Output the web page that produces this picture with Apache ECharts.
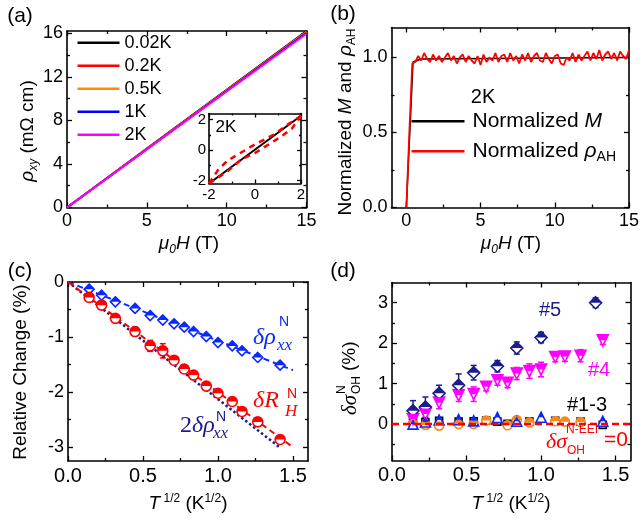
<!DOCTYPE html>
<html>
<head>
<meta charset="utf-8">
<script src="https://cdn.jsdelivr.net/npm/echarts@6/dist/echarts.min.js"></script>
<style>
html, body { margin: 0; background: #fff; }
#chart { width: 642px; height: 520px; }
</style>
</head>
<body>
<div id="chart"></div>
<script>
const SANS = '"Liberation Sans", Arial, sans-serif';
const SERIF = '"Liberation Serif", "Times New Roman", serif';

// (a) rho_xy vs field for each temperature
const fieldA = [0, 5, 10, 15];
const tempLabels = ['0.02K', '0.2K', '0.5K', '1K', '2K'];
const tempColors = ['#000000', '#ff0000', '#ff8c00', '#0000ff', '#ff00ff'];
const rho002 = [0, 5.40, 10.80, 16.20];
const rho02 = [0, 5.38, 10.76, 16.15];
const rho05 = [0, 5.37, 10.73, 16.10];
const rho1 = [0, 5.35, 10.69, 16.03];
const rho2 = [0, 5.33, 10.65, 15.95];

// (a) inset, 2K
const insetField = [-2, 2];
const insetRho = [-2.2, 2.25];
const loopUpField = [-2, -1.6, -1.2, 0, 0.8, 1.5, 2];
const loopUp = [-2.2, -1.3, -0.7, 0.37, 1.0, 1.75, 2.25];
const loopDownField = [-2, -1.2, -0.6, 0, 1.2, 1.6, 2];
const loopDown = [-2.2, -1.4, -0.62, -0.2, 0.95, 1.4, 2.25];

// (b) normalized M and rho_AH at 2K
const magField = [0, 0.45, 1, 15];
const magNorm = [0, 0.97, 0.99, 1.0];
const ahRiseField = [0, 0.2, 0.4];
const ahRise = [0, 0.5, 0.96];
const ahStart = 0.6, ahStep = 0.2;
const ahNoise = [
  0.97, 1.01, 0.98, 1.03, 0.99, 0.97, 1.02, 0.98, 1.01, 0.97,
  1.00, 1.03, 0.98, 1.01, 0.96, 1.00, 1.02, 0.97, 1.01, 0.98,
  0.96, 1.01, 0.95, 1.02, 0.97, 1.00, 0.98, 1.03, 0.97, 1.01,
  1.02, 0.97, 1.03, 0.98, 1.01, 0.96, 1.02, 0.98, 1.03, 0.97,
  1.01, 1.03, 0.98, 0.97, 1.03, 0.99, 0.96, 1.01, 1.02, 0.96,
  0.95, 1.00, 0.98, 1.03, 0.97, 1.02, 0.98, 1.01, 1.04, 0.98,
  1.03, 0.99, 1.05, 0.98, 1.02, 1.04, 0.99, 1.03, 0.98, 1.04,
  1.01, 0.99, 1.05
];

// (c) relative change vs T^1/2
const tSqrt = [0.141, 0.224, 0.316, 0.447, 0.548, 0.632, 0.707, 0.775, 0.837, 0.922, 1.0, 1.095, 1.16, 1.265, 1.414];
const dRhoXX = [-0.13, -0.24, -0.36, -0.48, -0.61, -0.69, -0.76, -0.82, -0.9, -0.99, -1.1, -1.16, -1.25, -1.37, -1.51];
const dRH = [-0.28, -0.42, -0.66, -0.9, -1.16, -1.25, -1.42, -1.58, -1.69, -1.89, -2.02, -2.17, -2.35, -2.54, -2.86];
const dRHErr = [0.04, 0.05, 0.05, 0.08, 0.1, 0.13, 0.05, 0.04, 0.04, 0.07, 0.05, 0.04, 0.04, 0.04, 0.04];
const fitX = [0, 1.5];
const fitRhoXX = [0, -1.6];
const fitRH = [0, -3.0];
const fit2RhoX = [0, 1.41];
const fit2Rho = [0, -3.0];

// (d) delta sigma_OH vs T^1/2
const s5T = [0.141, 0.224, 0.316, 0.447, 0.548, 0.707, 0.837, 1.0, 1.366];
const s5 = [0.33, 0.42, 0.76, 0.96, 1.27, 1.43, 1.88, 2.14, 3.0];
const s5Err = [0.25, 0.25, 0.2, 0.28, 0.18, 0.14, 0.15, 0.13, 0.12];
const s4 = [0.12, 0.25, 0.53, 0.71, 0.74, 0.92, 1.08, 1.02, 1.25, 1.31, 1.35, 1.66, 1.67, 1.69, 2.07];
const s4Err = [0.2, 0.22, 0.15, 0.15, 0.18, 0.1, 0.12, 0.12, 0.15, 0.18, 0.18, 0.12, 0.12, 0.15, 0.1];
const s1T = [0.141, 0.224, 0.316, 0.447, 0.548, 0.632, 0.707, 0.775, 0.922, 1.095, 1.265, 1.414];
const s1 = [0.08, 0.05, 0.08, 0.06, 0.07, 0.09, 0.06, 0.01, 0.06, 0.08, 0.06, -0.02];
const s2T = [0.141, 0.224, 0.316, 0.447, 0.548, 0.707, 0.837, 1.0, 1.414];
const s2 = [0.0, 0.05, 0.1, 0.11, 0.08, 0.16, 0.07, 0.17, 0.07];
const s3T = [0.141, 0.224, 0.316, 0.447, 0.548, 0.632, 0.775, 0.837, 0.922, 1.095, 1.16, 1.265];
const s3 = [0.0, -0.02, -0.04, 0.0, 0.0, 0.09, -0.03, 0.1, 0.04, 0.07, 0.06, 0.05];
const zeroX = [0, 1.6];
const zeroY = [0, 0];

const BLUE = '#0a28ff', NAVY = '#1c1c8c', RED = '#ff0000', MAG = '#ff00ff', ORANGE = '#f5891f';

function rich(fs) {
  const s = Math.round(fs * 0.65);
  return {
    n: { fontSize: fs, fontFamily: SANS, lineHeight: fs + 4 },
    i: { fontSize: fs, fontFamily: SANS, fontStyle: 'italic', lineHeight: fs + 4 },
    sub: { fontSize: s, fontFamily: SANS, verticalAlign: 'bottom', lineHeight: s },
    isub: { fontSize: s, fontFamily: SANS, fontStyle: 'italic', verticalAlign: 'bottom', lineHeight: s },
    sup: { fontSize: s, fontFamily: SANS, verticalAlign: 'top', lineHeight: s }
  };
}
const R19 = rich(19);
const R21 = rich(21);

// axes: every frame gets mirrored ticks on all four sides
const xAxes = [], yAxes = [];
function axisPart(gi, pos, s, ticks, len, withLabel, withLine) {
  return {
    type: 'value', gridIndex: gi, position: pos, min: s.min, max: s.max,
    axisLine: { show: withLine, onZero: false, lineStyle: { color: '#000', width: 1.6 } },
    axisTick: { show: ticks.length > 0, inside: true, length: len, customValues: ticks, lineStyle: { color: '#000', width: 1.3 } },
    axisLabel: { show: withLabel, customValues: s.major, margin: s.margin, fontSize: s.fs, color: '#000', fontFamily: SANS,
      formatter: s.fmt || (v => String(v)) },
    splitLine: { show: false }
  };
}
function addFrame(gi, xs, ys, L, l) {
  const xi = xAxes.length, yi = yAxes.length;
  xAxes.push(axisPart(gi, 'bottom', xs, xs.major, L, true, true));
  xAxes.push(axisPart(gi, 'bottom', xs, xs.minor, l, false, false));
  xAxes.push(axisPart(gi, 'top', xs, xs.major, L, false, true));
  xAxes.push(axisPart(gi, 'top', xs, xs.minor, l, false, false));
  yAxes.push(axisPart(gi, 'left', ys, ys.major, L, true, true));
  yAxes.push(axisPart(gi, 'left', ys, ys.minor, l, false, false));
  yAxes.push(axisPart(gi, 'right', ys, ys.major, L, false, true));
  yAxes.push(axisPart(gi, 'right', ys, ys.minor, l, false, false));
  return { xi, yi };
}
const f1 = v => v.toFixed(1);
const axA = addFrame(0, { min: 0, max: 15, major: [0, 5, 10, 15], minor: [2.5, 7.5, 12.5], margin: 5, fs: 18 },
  { min: 0, max: 16.2, major: [0, 4, 8, 12, 16], minor: [2, 6, 10, 14], margin: 4, fs: 18 }, 5, 3);
const axIn = addFrame(1, { min: -2, max: 2, major: [-2, 0, 2], minor: [-1, 1], margin: 4, fs: 15 },
  { min: -2.2, max: 2.4, major: [-2, 0, 2], minor: [-1, 1], margin: 3, fs: 15 }, 4, 2);
const axB = addFrame(2, { min: -1, max: 15, major: [0, 5, 10, 15], minor: [2.5, 7.5, 12.5], margin: 5, fs: 18 },
  { min: 0, max: 1.2, major: [0, 0.5, 1], minor: [0.25, 0.75], margin: 4, fmt: f1, fs: 18 }, 5, 3);
const axC = addFrame(3, { min: 0, max: 1.6, major: [0, 0.5, 1, 1.5], minor: [0.25, 0.75, 1.25], margin: 5, fmt: f1, fs: 20 },
  { min: -3.25, max: 0, major: [0, -1, -2, -3], minor: [-0.5, -1.5, -2.5], margin: 4, fs: 18 }, 5, 3);
const axD = addFrame(4, { min: 0, max: 1.6, major: [0, 0.5, 1, 1.5], minor: [0.25, 0.75, 1.25], margin: 5, fmt: f1, fs: 20 },
  { min: -0.9, max: 3.5, major: [0, 1, 2, 3], minor: [-0.5, 0.5, 1.5, 2.5], margin: 4, fs: 18 }, 5, 3);

function pairs(xs, ys) { return xs.map((x, i) => [x, ys[i]]); }
function line(ax, name, xs, ys, color, width, dash, z) {
  return {
    type: 'line', name, xAxisIndex: ax.xi, yAxisIndex: ax.yi, data: pairs(xs, ys),
    showSymbol: false, symbol: 'none', silent: true, z: z || 2,
    lineStyle: { color, width, type: dash || 'solid' }, itemStyle: { color }
  };
}
function errBars(ax, xs, ys, errs, color) {
  return {
    type: 'custom', xAxisIndex: ax.xi, yAxisIndex: ax.yi, z: 2, silent: true,
    encode: { x: 0, y: [1, 2] },
    data: xs.map((x, i) => [x, ys[i] - errs[i], ys[i] + errs[i]]),
    renderItem: (params, api) => {
      const lo = api.coord([api.value(0), api.value(1)]);
      const hi = api.coord([api.value(0), api.value(2)]);
      const st = { stroke: color, lineWidth: 1.5 };
      return { type: 'group', children: [
        { type: 'line', shape: { x1: lo[0], y1: lo[1], x2: hi[0], y2: hi[1] }, style: st },
        { type: 'line', shape: { x1: lo[0] - 3, y1: lo[1], x2: lo[0] + 3, y2: lo[1] }, style: st },
        { type: 'line', shape: { x1: hi[0] - 3, y1: hi[1], x2: hi[0] + 3, y2: hi[1] }, style: st }
      ]};
    }
  };
}
// half-filled symbols: white outline marker + top half filled
const halfPaths = {
  circle: 'path://M0,10A10,10,0,0,1,20,10Z',
  diamond: 'path://M0,10L10,0L20,10Z',
  triangle: 'path://M0,10L5,0L10,10Z',
  triangleDown: 'path://M0,0L20,0L15,10L5,10Z'
};
function markers(ax, xs, ys, shape, color, size, half) {
  const data = pairs(xs, ys);
  const down = shape === 'triangleDown';
  const out = [{
    type: 'scatter', xAxisIndex: ax.xi, yAxisIndex: ax.yi, data, silent: true, z: 3,
    symbol: down ? 'triangle' : shape, symbolRotate: down ? 180 : 0, symbolSize: size,
    itemStyle: { color: '#fff', borderColor: color, borderWidth: 1.6, opacity: 1 }
  }];
  if (half) {
    out.push({
      type: 'scatter', xAxisIndex: ax.xi, yAxisIndex: ax.yi, data, silent: true, z: 4,
      symbol: halfPaths[shape], symbolSize: shape === 'triangle' ? [size / 2, size / 2] : [size, size / 2],
      symbolOffset: [0, -size / 4], itemStyle: { color, opacity: 1 }
    });
  }
  return out;
}

const series = [];
[rho002, rho02, rho05, rho1, rho2].forEach((ys, k) => {
  series.push(line(axA, tempLabels[k], fieldA, ys, tempColors[k], 2));
});
series.push(line(axIn, 'inM', insetField, insetRho, '#000', 2));
series.push(line(axIn, 'inUp', loopUpField, loopUp, RED, 2.5, [6, 5], 3));
series.push(line(axIn, 'inDown', loopDownField, loopDown, RED, 2.5, [6, 5], 3));

const ahField = ahRiseField.concat(ahNoise.map((_, i) => +(ahStart + i * ahStep).toFixed(2)));
series.push(line(axB, 'normM', magField, magNorm, '#000', 1.5));
series.push(line(axB, 'normAH', ahField, ahRise.concat(ahNoise), RED, 1.8, 'solid', 3));

series.push(line(axC, 'fitRhoXX', fitX, fitRhoXX, BLUE, 2, [6, 4]));
series.push(line(axC, 'fit2Rho', fit2RhoX, fit2Rho, NAVY, 2.5, [2.5, 2.5]));
series.push(line(axC, 'fitRH', fitX, fitRH, RED, 2, [6, 4]));
series.push(errBars(axC, tSqrt, dRH, dRHErr, RED));
series.push(...markers(axC, tSqrt, dRhoXX, 'diamond', BLUE, 10, true));
series.push(...markers(axC, tSqrt, dRH, 'circle', RED, 10, true));

series.push(errBars(axD, s5T, s5, s5Err, NAVY));
series.push(errBars(axD, tSqrt, s4, s4Err, MAG));
series.push(...markers(axD, s1T, s1, 'rect', '#000', 7, false));
series.push(...markers(axD, s3T, s3, 'circle', ORANGE, 9, true));
series.push(...markers(axD, s2T, s2, 'triangle', BLUE, 10, true));
series.push(...markers(axD, tSqrt, s4, 'triangleDown', MAG, 11, true));
series.push(...markers(axD, s5T, s5, 'diamond', NAVY, 12, true));
series.push(line(axD, 'zero', zeroX, zeroY, RED, 2.5, [7, 4], 6));

function label(x, y, text, o) {
  o = o || {};
  const al = o.align || 'center';
  return {
    type: 'text', x, y, rotation: o.rot || 0, z: 100, silent: true,
    style: {
      text, fill: o.color || '#000', fontSize: o.fs || 19, fontFamily: o.ff || SANS,
      fontStyle: o.it ? 'italic' : 'normal', align: al, textAlign: al,
      verticalAlign: 'middle', textVerticalAlign: 'middle', rich: o.rich
    }
  };
}
const ROT = Math.PI / 2;
const serifRich = {
  n: { fontSize: 24, fontFamily: SERIF },
  i: { fontSize: 24, fontFamily: SERIF, fontStyle: 'italic' }
};
const graphics = [
  label(20, 16, '(a)', { fs: 21 }),
  label(343, 14, '(b)', { fs: 21 }),
  label(20, 271, '(c)', { fs: 21 }),
  label(343, 271, '(d)', { fs: 21 }),
  // axis titles
  label(189, 244, '{i|μ}{isub|0}{i|H}{n| (T)}', { rich: R19 }),
  label(511, 244, '{i|μ}{isub|0}{i|H}{n| (T)}', { rich: R19 }),
  label(188, 504, '{i|T}{sup| 1/2}{n| (K}{sup|1/2}{n|)}', { rich: R19 }),
  label(511, 504, '{i|T}{sup| 1/2}{n| (K}{sup|1/2}{n|)}', { rich: R19 }),
  label(28, 131, '{i|ρ}{isub|xy}{n| (mΩ cm)}', { rich: R19, rot: ROT }),
  label(346, 122, '{n|Normalized }{i|M}{n| and }{i|ρ}{sub|AH}', { rich: R19, rot: ROT }),
  label(21, 372, 'Relative Change (%)', { rot: ROT }),
  {
    type: 'group', x: 350, y: 379, rotation: ROT, children: [
      label(-36, 0, 'δσ', { align: 'left', ff: SERIF, it: true, fs: 21 }),
      label(-15, -8, 'N', { align: 'left', fs: 12 }),
      label(-15, 7, 'OH', { align: 'left', fs: 12 }),
      label(8, 0, '(%)', { align: 'left', fs: 19 })
    ]
  },
  // panel texts
  label(226, 127, '2K', { fs: 17 }),
  label(483, 97, '2K', { fs: 20 }),
  label(253, 338, 'δρ', { align: 'left', ff: SERIF, it: true, fs: 24, color: BLUE }),
  label(279, 322, 'N', { align: 'left', fs: 14, color: BLUE }),
  label(277, 346, 'xx', { align: 'left', ff: SERIF, it: true, fs: 17, color: BLUE }),
  label(253, 401, 'δR', { align: 'left', ff: SERIF, it: true, fs: 24, color: RED }),
  label(287, 394, 'N', { align: 'left', fs: 14, color: RED }),
  label(285, 412, 'H', { align: 'left', ff: SERIF, it: true, fs: 17, color: RED }),
  label(180, 426, '{n|2}{i|δρ}', { align: 'left', rich: serifRich, color: NAVY }),
  label(216, 417, 'N', { align: 'left', fs: 14, color: NAVY }),
  label(213, 434, 'xx', { align: 'left', ff: SERIF, it: true, fs: 17, color: NAVY }),
  label(550, 310, '#5', { fs: 20, color: NAVY }),
  label(599, 370, '#4', { fs: 20, color: MAG }),
  label(587, 405, '#1-3', { fs: 20 }),
  label(546, 442, 'δσ', { align: 'left', ff: SERIF, it: true, fs: 22, color: RED }),
  label(566, 430, 'N-EEI', { align: 'left', fs: 12, color: RED }),
  label(567, 451, 'OH', { align: 'left', fs: 12, color: RED }),
  label(604, 440, '=0', { align: 'left', fs: 21, color: RED })
];

// one legend block per entry so each row sits at its own height
const legends = tempLabels.map((name, k) => ({
  left: 77.5, top: 42.7 + 23 * k - 9, padding: 0, itemWidth: 42, itemHeight: 2.5,
  icon: 'rect', selectedMode: false, data: [name],
  textStyle: { fontSize: 18, lineHeight: 18, color: '#000', fontFamily: SANS }
}));
['normM', 'normAH'].forEach((name, k) => {
  legends.push({
    left: 411.5, top: 123.3 + 30 * k - 12.5, padding: 0, itemWidth: 53, itemHeight: 2.5,
    icon: 'rect', selectedMode: false, data: [name],
    formatter: n => n === 'normM' ? '{n|Normalized }{i|M}' : '{n|Normalized }{i|ρ}{sub|AH}',
    textStyle: { fontSize: 21, color: '#000', fontFamily: SANS, rich: R21, padding: [0, 0, 0, 3] }
  });
});

const chart = echarts.init(document.getElementById('chart'));
chart.setOption({
  animation: false,
  backgroundColor: '#fff',
  textStyle: { fontFamily: SANS },
  grid: [
    { left: 67, top: 31, width: 239.5, height: 176.5 },
    { left: 209, top: 113.5, width: 92, height: 70 },
    { left: 391.5, top: 27.5, width: 240, height: 180 },
    { left: 68, top: 282, width: 240, height: 179 },
    { left: 392, top: 282.5, width: 238.5, height: 178 }
  ],
  legend: legends,
  xAxis: xAxes,
  yAxis: yAxes,
  series,
  graphic: graphics
});
</script>
</body>
</html>
